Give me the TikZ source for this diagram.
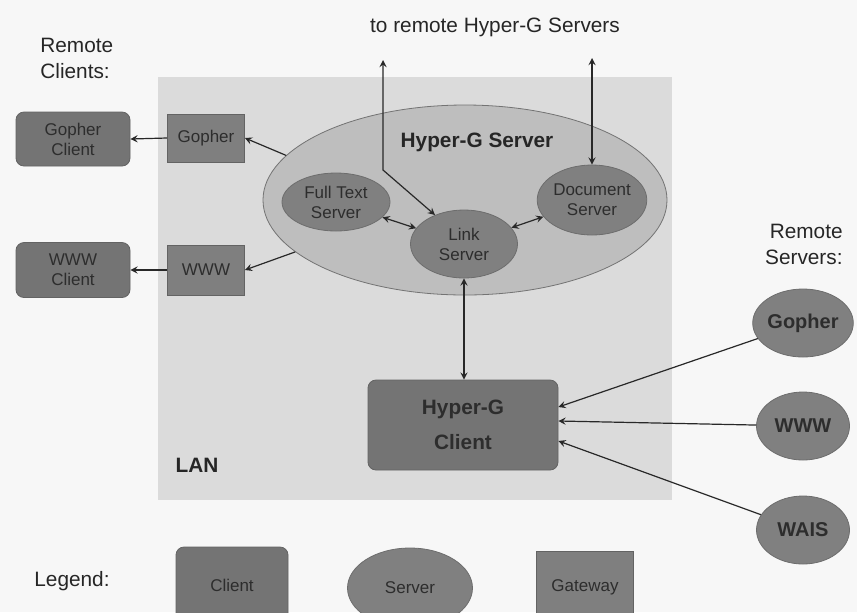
\documentclass[tikz,border=0pt]{standalone}
\usepackage{fontspec}
\setmainfont{Liberation Sans}
\usetikzlibrary{shapes.geometric, arrows}
\definecolor{boxgray}{RGB}{116,116,116}
\definecolor{servgray}{RGB}{128,128,128}
\definecolor{hgsgray}{RGB}{190,190,190}
\definecolor{langray}{RGB}{219,219,219}
\definecolor{inktext}{RGB}{45,45,45}
\definecolor{lineink}{RGB}{40,40,40}
\tikzstyle{client} = [rectangle, rounded corners=4pt, draw=boxgray!85!black, fill=boxgray, text=inktext, align=center, inner sep=0pt, font=\fontsize{8.5}{10}\selectfont]
\tikzstyle{gateway} = [rectangle, draw=boxgray!85!black, fill=boxgray!92!white, text=inktext, align=center, inner sep=0pt, font=\fontsize{8.5}{10}\selectfont]
\tikzstyle{server} = [ellipse, draw=servgray!85!black, fill=servgray, text=inktext, align=center, inner sep=0pt, font=\fontsize{8.5}{10}\selectfont]
\tikzstyle{bigserver} = [ellipse, draw=gray!90!black, fill=hgsgray, inner sep=0pt]
\tikzstyle{label} = [text=black!85, align=left, inner sep=0pt, font=\fontsize{10.4}{13}\selectfont]
\tikzstyle{boldlabel} = [text=black!85, inner sep=0pt, font=\fontsize{10.4}{13}\selectfont\bfseries]
\tikzstyle{arrow} = [draw=lineink, line width=0.6pt, ->, >=stealth]
\tikzstyle{darrow} = [draw=lineink, line width=0.6pt, <->, >=stealth]

\begin{document}
\begin{tikzpicture}[x=0.5pt, y=-0.5pt]
\clip (0,0) rectangle (857,612);
\fill[white!97!black] (0,0) rectangle (857,612);
% LAN area
\fill[langray] (158,77) rectangle (672,500);
\node (lan) [boldlabel] at (197,465) {LAN};
% Hyper-G server with its parts
\node (hgs) [bigserver, minimum width=202pt, minimum height=95pt] at (465,200) {};
\node (hgslabel) [boldlabel] at (477,142) {Hyper-G Server};
\node (fulltext) [server, minimum width=54pt, minimum height=29pt] at (336,202) {Full Text\\Server};
\node (link) [server, minimum width=53.5pt, minimum height=34pt] at (464,244) {Link\\Server};
\node (doc) [server, minimum width=53.5pt, minimum height=35pt] at (592,200) {Document\\Server};
% gateways and remote clients
\node (gophergw) [gateway, minimum width=38.5pt, minimum height=24pt] at (206,138) {Gopher};
\node (wwwgw) [gateway, minimum width=38.5pt, minimum height=25pt] at (206,270) {WWW};
\node (gopherclient) [client, minimum width=57pt, minimum height=27pt] at (73,139) {Gopher\\Client};
\node (wwwclient) [client, minimum width=57pt, minimum height=27.5pt] at (73,270) {WWW\\Client};
\node (remclients) [label, anchor=west] at (40,58) {Remote\\Clients:};
% Hyper-G client
\node (hgclient) [client, minimum width=95pt, minimum height=45pt, font=\fontsize{10.4}{17.5}\selectfont\bfseries] at (463,425) {Hyper-G\\Client};
% remote servers
\node (remservers) [label, align=right, anchor=east] at (843,244) {Remote\\Servers:};
\node (rgopher) [server, minimum width=46.5pt, minimum height=34pt, font=\fontsize{10}{12}\selectfont\bfseries] at (803,323) {Gopher};
\node (rwww) [server, minimum width=46.5pt, minimum height=34pt, font=\fontsize{10}{12}\selectfont\bfseries] at (803,426) {WWW};
\node (rwais) [server, minimum width=46.5pt, minimum height=34pt, font=\fontsize{10}{12}\selectfont\bfseries] at (803,530) {WAIS};
% remote Hyper-G servers
\node (remhgs) [label] at (495,27) {to remote Hyper-G Servers};
\coordinate (upA) at (383,60);
\coordinate (bendA) at (383,170);
\coordinate (upB) at (592,58);
% connectors
\draw[arrow] (hgs.166) -- (gophergw.east);
\draw[arrow] (hgs.197) -- (wwwgw.east);
\draw[arrow] (gophergw.west) -- (gopherclient.east);
\draw[arrow] (wwwgw.west) -- (wwwclient.east);
\draw[darrow] (fulltext) -- (link);
\draw[darrow] (doc) -- (link);
\draw[darrow] (upA) -- (bendA) -- (link.135);
\draw[darrow] (upB) -- (doc.north);
\draw[darrow] (link.south) -- (link.south |- hgclient.north);
\draw[arrow] (rgopher) -- ([yshift=9pt]hgclient.east);
\draw[arrow] (rwww) -- ([yshift=2pt]hgclient.east);
\draw[arrow] (rwais) -- ([yshift=-8pt]hgclient.east);
% legend
\node (legend) [label] at (72,581) {Legend:};
\node (legclient) [client, minimum width=56pt, minimum height=38pt] at (232,585) {Client};
\node (legserver) [server, minimum width=62.5pt, minimum height=40pt] at (410,588) {Server};
\node (leggateway) [gateway, minimum width=48.5pt, minimum height=36pt] at (585,587) {Gateway};
\end{tikzpicture}
\end{document}
